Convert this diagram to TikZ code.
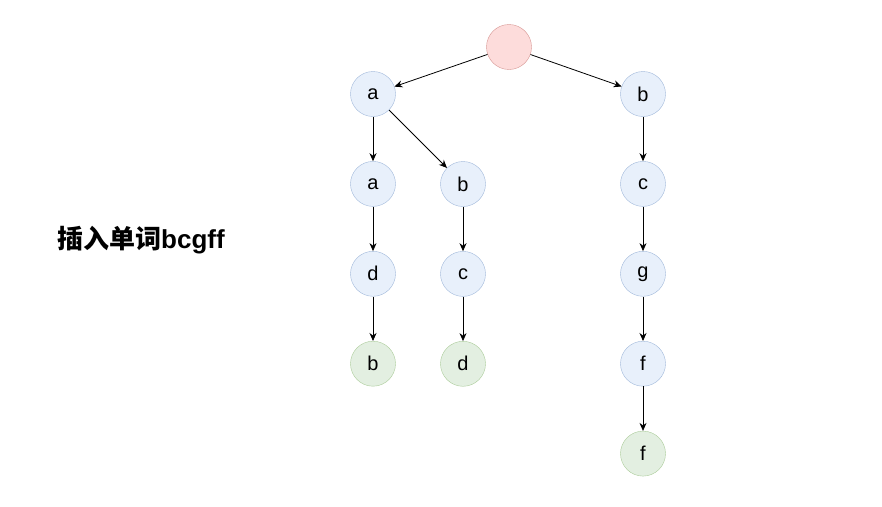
\documentclass[tikz,border=0pt]{standalone}
\usepackage{fontspec}
\setmainfont{Liberation Sans}
\newfontfamily\cjkfont{Noto Sans CJK SC}
\usetikzlibrary{positioning,arrows.meta}
\definecolor{nodeblue}{HTML}{E8F0FB}
\definecolor{lineblue}{HTML}{A0B8DA}
\definecolor{nodered}{HTML}{FDDCDB}
\definecolor{linered}{HTML}{D69592}
\definecolor{nodegreen}{HTML}{E3EFE1}
\definecolor{linegreen}{HTML}{ABCC9A}
\tikzset{
  trie/.style={circle, draw=lineblue, fill=nodeblue, minimum size=45pt, inner sep=0pt,
    font=\fontsize{20}{24}\selectfont},
  rootnode/.style={trie, draw=linered, fill=nodered},
  endnode/.style={trie, draw=linegreen, fill=nodegreen}
}

\begin{document}
\begin{tikzpicture}[x=1pt, y=1pt,
    node distance = 44.5pt,
    -{Stealth[length=8pt,width=7pt]},
    every edge/.style={draw, line width=0.8pt}
  ]
    \useasboundingbox (0,0) rectangle (882,-506);
    \node[rootnode] (r)   at (509,-47)       {};
    \node[trie]     (a)   at (373,-94)       {a};
    \node[trie]     (b)   at (643,-94)       {b};
    \node[trie]     (aa)  [below = of a]     {a};
    \node[trie]     (ab)  at (463,-184)      {b};
    \node[trie]     (bc)  [below = of b]     {c};
    \node[trie]     (aad) [below = of aa]    {d};
    \node[trie]     (abc) [below = of ab]    {c};
    \node[trie]     (bcg) [below = of bc]    {g};
    \node[endnode]  (aadb) [below = of aad]  {b};
    \node[endnode]  (abcd) [below = of abc]  {d};
    \node[trie]     (bcgf) [below = of bcg]  {f};
    \node[endnode]  (bcgff) [below = of bcgf] {f};

    \node[font=\bfseries\fontsize{26}{30}\selectfont] (title) at (141,-240) {{\cjkfont 插入单词}bcgff};

    \path (r) edge (a)
          (r) edge (b)
          (a) edge (aa)
          (a) edge (ab)
          (aa) edge (aad)
          (aad) edge (aadb)
          (ab) edge (abc)
          (abc) edge (abcd)
          (b) edge (bc)
          (bc) edge (bcg)
          (bcg) edge (bcgf)
          (bcgf) edge (bcgff)
    ;

  \end{tikzpicture}
\end{document}
